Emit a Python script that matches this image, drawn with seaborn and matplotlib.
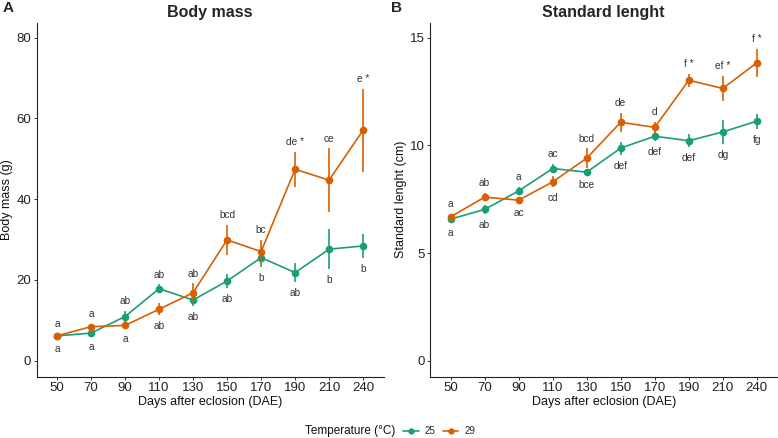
import numpy as np
import pandas as pd
import matplotlib
matplotlib.use("Agg")
import matplotlib.pyplot as plt
from matplotlib.lines import Line2D
import seaborn as sns

# sampling days (categorical axis)
days = ["50", "70", "90", "110", "130", "150", "170", "190", "210", "240"]
temps = ["25", "29"]

# body mass (g): mean and error
mass_25 = [6.1, 6.8, 10.9, 17.8, 15.0, 19.7, 25.5, 21.8, 27.6, 28.4]
mass_25_err = [0.5, 0.6, 1.4, 1.1, 1.4, 1.8, 2.2, 2.4, 5.0, 3.0]
mass_29 = [6.1, 8.4, 8.7, 12.7, 16.8, 29.9, 27.0, 47.4, 44.7, 57.1]
mass_29_err = [0.5, 0.6, 0.7, 1.5, 2.3, 3.8, 2.9, 4.4, 7.9, 10.3]

# standard length (cm): mean and error
sl_25 = [6.58, 7.03, 7.89, 8.93, 8.76, 9.88, 10.43, 10.22, 10.63, 11.13]
sl_25_err = [0.15, 0.2, 0.2, 0.2, 0.1, 0.3, 0.2, 0.3, 0.55, 0.35]
sl_29 = [6.69, 7.60, 7.46, 8.31, 9.41, 11.08, 10.84, 13.03, 12.65, 13.84]
sl_29_err = [0.15, 0.2, 0.1, 0.25, 0.45, 0.45, 0.25, 0.3, 0.6, 0.65]

# significance letters
mass_upper = ["a", "a", "ab", "ab", "ab", "bcd", "bc", "de *", "ce", "e *"]
mass_lower = ["a", "a", "a", "ab", "ab", "ab", "b", "ab", "b", "b"]
sl_upper = ["a", "ab", "a", "ac", "bcd", "de", "d", "f *", "ef *", "f *"]
sl_lower = ["a", "ab", "ac", "cd", "bce", "def", "def", "def", "dg", "fg"]

palette = {"25": "#1B9E77", "29": "#D95F02"}

sns.set_theme(style="ticks")
plt.rcParams["font.family"] = ["Liberation Sans", "DejaVu Sans"]


def make_df(m25, e25, m29, e29):
    rows = []
    for t, m, e in [("25", m25, e25), ("29", m29, e29)]:
        for i, d in enumerate(days):
            rows.append({"pos": i, "day": d, "temp": t, "mean": m[i], "err": e[i]})
    return pd.DataFrame(rows)


def draw_panel(ax, df, upper, lower, title, ylabel, ylim, yticks):
    sns.lineplot(data=df, x="pos", y="mean", hue="temp", palette=palette,
                 marker="o", markersize=5.5, markeredgewidth=0, linewidth=1.2,
                 ax=ax, legend=False, errorbar=None)
    for t in temps:
        sub = df[df["temp"] == t]
        ax.errorbar(sub["pos"], sub["mean"], yerr=sub["err"], fmt="none",
                    ecolor=palette[t], elinewidth=1.2, capsize=0)
    top = (df["mean"] + df["err"]).groupby(df["pos"]).max()
    bot = (df["mean"] - df["err"]).groupby(df["pos"]).min()
    for i in range(len(days)):
        ax.annotate(upper[i], (i, top[i]), xytext=(0, 7), textcoords="offset points",
                    ha="center", va="center", fontsize=7.3, color="#333333")
        ax.annotate(lower[i], (i, bot[i]), xytext=(0, -8), textcoords="offset points",
                    ha="center", va="center", fontsize=7.3, color="#333333")
    ax.set_xlim(-0.6, len(days) - 0.4)
    ax.set_xticks(range(len(days)))
    ax.set_xticklabels(days)
    ax.set_ylim(*ylim)
    ax.set_yticks(yticks)
    ax.set_xlabel("Days after eclosion (DAE)", fontsize=9, color="#111111", labelpad=1)
    ax.set_ylabel(ylabel, fontsize=9, color="#111111", labelpad=2)
    ax.set_title(title, fontsize=11.5, fontweight="bold", pad=4)
    ax.tick_params(labelsize=9.5, length=2.5, width=0.7, colors="#333333",
                   labelcolor="#222222", pad=1.5)
    for s in ["left", "bottom"]:
        ax.spines[s].set_linewidth(0.8)
        ax.spines[s].set_color("#222222")
    sns.despine(ax=ax)


fig = plt.figure(figsize=(7.78, 4.38), dpi=100)
ax1 = fig.add_axes([0.047, 0.140, 0.446, 0.808])
ax2 = fig.add_axes([0.553, 0.140, 0.446, 0.808])

draw_panel(ax1, make_df(mass_25, mass_25_err, mass_29, mass_29_err),
           mass_upper, mass_lower, "Body mass", "Body mass (g)",
           (-4, 83.7), [0, 20, 40, 60, 80])
draw_panel(ax2, make_df(sl_25, sl_25_err, sl_29, sl_29_err),
           sl_upper, sl_lower, "Standard lenght", "Standard lenght (cm)",
           (-0.74, 15.7), [0, 5, 10, 15])

fig.text(0.003, 0.982, "A", fontsize=11, fontweight="bold", va="center")
fig.text(0.503, 0.982, "B", fontsize=11, fontweight="bold", va="center")

fig.text(0.508, 0.016, "Temperature (°C)", fontsize=8.5, ha="right", va="center",
         color="#111111")
handles = [Line2D([], [], color=palette[t], marker="o", markersize=3.5, lw=1.2)
           for t in temps]
fig.legend(handles, temps, loc="center left", bbox_to_anchor=(0.518, 0.016),
           ncol=2, frameon=False, fontsize=7, handlelength=1.6, handletextpad=0.6,
           columnspacing=0.8, borderpad=0, borderaxespad=0)

fig.savefig("out.png", dpi=100)
